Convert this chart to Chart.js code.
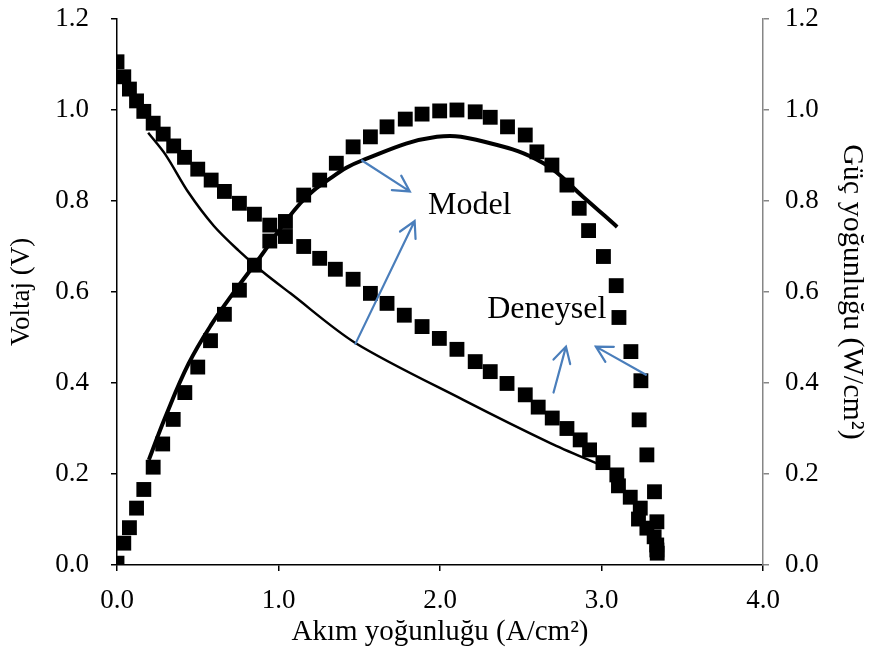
<!DOCTYPE html>
<html>
<head>
<meta charset="utf-8">
<script src="https://cdn.jsdelivr.net/npm/chart.js@4.4.1/dist/chart.umd.min.js"></script>
<style>
  html, body { margin: 0; padding: 0; background: #fff; }
  canvas { display: block; }
</style>
</head>
<body>
<canvas id="chart" width="874" height="652"></canvas>
<script>
const expVoltCurrent = [0.00, 0.042, 0.077, 0.121, 0.166, 0.224, 0.286, 0.351, 0.418, 0.500, 0.583, 0.665, 0.758, 0.851, 0.946, 1.043, 1.156, 1.255, 1.352, 1.462, 1.569, 1.672, 1.779, 1.889, 1.996, 2.105, 2.218, 2.311, 2.415, 2.528, 2.608, 2.695, 2.786, 2.868, 2.926, 3.009, 3.095, 3.105, 3.178, 3.240, 3.229, 3.281, 3.326, 3.342, 3.345];
const expVoltage = [1.106, 1.073, 1.046, 1.020, 0.997, 0.971, 0.947, 0.921, 0.896, 0.870, 0.846, 0.821, 0.795, 0.771, 0.747, 0.722, 0.700, 0.674, 0.650, 0.628, 0.597, 0.575, 0.549, 0.524, 0.498, 0.474, 0.447, 0.425, 0.399, 0.374, 0.347, 0.323, 0.300, 0.275, 0.253, 0.225, 0.198, 0.174, 0.149, 0.125, 0.101, 0.081, 0.062, 0.044, 0.026];

const expPowerCurrent = [0.00, 0.042, 0.077, 0.121, 0.166, 0.224, 0.283, 0.348, 0.420, 0.500, 0.579, 0.665, 0.758, 0.851, 0.946, 1.043, 1.156, 1.255, 1.358, 1.462, 1.569, 1.672, 1.785, 1.889, 1.998, 2.105, 2.218, 2.311, 2.418, 2.528, 2.600, 2.693, 2.786, 2.862, 2.920, 3.012, 3.091, 3.108, 3.182, 3.244, 3.233, 3.281, 3.328, 3.343, 3.343];
const expPower = [0.004, 0.048, 0.082, 0.125, 0.166, 0.215, 0.266, 0.320, 0.379, 0.435, 0.493, 0.551, 0.604, 0.659, 0.712, 0.755, 0.813, 0.846, 0.883, 0.919, 0.941, 0.963, 0.980, 0.991, 0.998, 1.000, 0.996, 0.984, 0.963, 0.945, 0.908, 0.879, 0.835, 0.784, 0.735, 0.678, 0.614, 0.544, 0.469, 0.405, 0.319, 0.242, 0.161, 0.095, 0.033];

// Model curves
const modelVoltCurrent = [0.193, 0.30, 0.444, 0.60, 0.75, 0.90, 1.074, 1.476, 2.144, 2.683, 2.992];
const modelVoltage = [0.950, 0.902, 0.818, 0.745, 0.692, 0.645, 0.597, 0.488, 0.363, 0.268, 0.220];

const modelPowerCurrent = [0.197, 0.30, 0.444, 0.589, 0.733, 0.868, 1.135, 1.33, 1.517, 1.981, 2.311, 2.641, 2.887, 3.097];
const modelPower = [0.231, 0.326, 0.443, 0.531, 0.604, 0.668, 0.795, 0.852, 0.889, 0.941, 0.927, 0.883, 0.809, 0.743];

const xTicks = [0, 1, 2, 3, 4];
const yTicks = [0, 0.2, 0.4, 0.6, 0.8, 1.0, 1.2];

// Annotation labels and arrows (data units)
const labels = [
    { text: 'Model', x: 2.184, y: 0.771 },
    { text: 'Deneysel', x: 2.661, y: 0.543 }
];
const arrows = [
    { from: [1.517, 0.889], to: [1.813, 0.821] },
    { from: [1.476, 0.486], to: [1.843, 0.756] },
    { from: [2.703, 0.379], to: [2.780, 0.480] },
    { from: [3.275, 0.418], to: [2.965, 0.480] }
];

const toPoints = (xs, ys) => xs.map((x, i) => ({ x: x, y: ys[i] }));

const serif = '"Liberation Serif", "Times New Roman", serif';
const tickFont = { family: serif, size: 27 };

// keep the plot area where the reference has it
const fixBox = (s, size) => {
    if (s.isHorizontal()) s.height = size; else s.width = size;
    s.paddingTop = 0;
    s.paddingBottom = 0;
    s.paddingLeft = 0;
    s.paddingRight = 0;
};

const annotationPlugin = {
    id: 'annotations',
    afterDatasetsDraw(chart) {
        const ctx = chart.ctx;
        const xs = chart.scales.x, ys = chart.scales.y;
        ctx.save();
        ctx.strokeStyle = '#4a7ebb';
        ctx.lineWidth = 2.2;
        ctx.lineCap = 'round';
        arrows.forEach(a => {
            const x1 = xs.getPixelForValue(a.from[0]), y1 = ys.getPixelForValue(a.from[1]);
            const x2 = xs.getPixelForValue(a.to[0]), y2 = ys.getPixelForValue(a.to[1]);
            const ang = Math.atan2(y2 - y1, x2 - x1);
            const len = 18, spread = 0.5;
            ctx.beginPath();
            ctx.moveTo(x1, y1);
            ctx.lineTo(x2, y2);
            ctx.moveTo(x2 - len * Math.cos(ang - spread), y2 - len * Math.sin(ang - spread));
            ctx.lineTo(x2, y2);
            ctx.lineTo(x2 - len * Math.cos(ang + spread), y2 - len * Math.sin(ang + spread));
            ctx.stroke();
        });
        ctx.fillStyle = '#000';
        ctx.font = '32px ' + serif;
        ctx.textAlign = 'center';
        ctx.textBaseline = 'alphabetic';
        labels.forEach(l => {
            ctx.fillText(l.text, xs.getPixelForValue(l.x), ys.getPixelForValue(l.y));
        });
        ctx.restore();
    }
};

const ctx = document.getElementById('chart').getContext('2d');
new Chart(ctx, {
    type: 'scatter',
    data: {
        datasets: [
            {
                label: 'Model voltaj',
                data: toPoints(modelVoltCurrent, modelVoltage),
                showLine: true,
                borderColor: '#000',
                borderWidth: 2.5,
                pointRadius: 0,
                tension: 0.3,
                yAxisID: 'y'
            },
            {
                label: 'Model güç',
                data: toPoints(modelPowerCurrent, modelPower),
                showLine: true,
                borderColor: '#000',
                borderWidth: 4,
                pointRadius: 0,
                tension: 0.4,
                yAxisID: 'y2'
            },
            {
                label: 'Deneysel voltaj',
                data: toPoints(expVoltCurrent, expVoltage),
                pointStyle: 'rect',
                pointRadius: 10.5,
                pointBackgroundColor: '#000',
                pointBorderWidth: 0,
                yAxisID: 'y'
            },
            {
                label: 'Deneysel güç',
                data: toPoints(expPowerCurrent, expPower),
                pointStyle: 'rect',
                pointRadius: 10.5,
                pointBackgroundColor: '#000',
                pointBorderWidth: 0,
                yAxisID: 'y2'
            }
        ]
    },
    options: {
        responsive: false,
        animation: false,
        layout: { padding: { top: 19, left: 0, right: 0, bottom: 0 } },
        plugins: {
            legend: { display: false },
            tooltip: { enabled: false }
        },
        scales: {
            x: {
                type: 'linear',
                min: 0,
                max: 4,
                afterBuildTicks: s => { s.ticks = xTicks.map(v => ({ value: v })); },
                afterFit: s => fixBox(s, 87),
                ticks: { callback: v => v.toFixed(1), font: tickFont, color: '#000', padding: 14, maxRotation: 0 },
                grid: { display: true, drawOnChartArea: false, drawTicks: true, tickLength: 6, color: '#000', lineWidth: 1.5 },
                border: { display: true, color: '#000', width: 1.5 },
                title: { display: true, text: 'Akım yoğunluğu (A/cm²)', font: { family: serif, size: 29 }, color: '#000', padding: { top: 0, bottom: 2 } }
            },
            y: {
                position: 'left',
                min: 0,
                max: 1.2,
                afterBuildTicks: s => { s.ticks = yTicks.map(v => ({ value: v })); },
                afterFit: s => fixBox(s, 117),
                ticks: { callback: v => v.toFixed(1), font: tickFont, color: '#000', padding: 22 },
                grid: { display: true, drawOnChartArea: false, drawTicks: true, tickLength: 6, color: '#000', lineWidth: 1.5 },
                border: { display: true, color: '#000', width: 1.5 },
                title: { display: true, text: 'Voltaj (V)', font: { family: serif, size: 27 }, color: '#000', padding: { top: 6, bottom: 0 } }
            },
            y2: {
                position: 'right',
                min: 0,
                max: 1.2,
                afterBuildTicks: s => { s.ticks = yTicks.map(v => ({ value: v })); },
                afterFit: s => fixBox(s, 111),
                ticks: { callback: v => v.toFixed(1), font: tickFont, color: '#000', padding: 16 },
                grid: { display: true, drawOnChartArea: false, drawTicks: true, tickLength: 6, color: '#868686', lineWidth: 1.5 },
                border: { display: true, color: '#868686', width: 1.5 },
                title: { display: true, text: 'Güç yoğunluğu (W/cm²)', font: { family: serif, size: 30 }, color: '#000', padding: { top: 4, bottom: 0 } }
            }
        }
    },
    plugins: [annotationPlugin]
});
</script>
</body>
</html>
